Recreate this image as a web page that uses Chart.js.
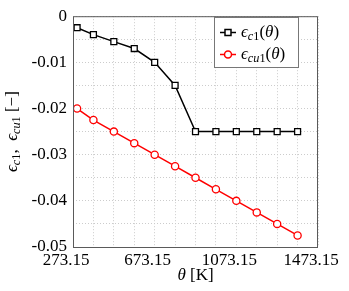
<!DOCTYPE html>
<html>
<head>
<meta charset="utf-8">
<script src="https://cdn.jsdelivr.net/npm/chart.js@4"></script>
<style>
  html, body { margin: 0; padding: 0; background: #fff; }
  #wrap { width: 349px; height: 291px; }
</style>
</head>
<body>
<div id="wrap"><canvas id="chart" width="349" height="291"></canvas></div>
<script>
// temperature in K
const temperatures = [293.15, 373.15, 473.15, 573.15, 673.15, 773.15, 873.15, 973.15, 1073.15, 1173.15, 1273.15, 1373.15];
const epsC1 = [-0.0025, -0.004, -0.0055, -0.007, -0.01, -0.015, -0.025, -0.025, -0.025, -0.025, -0.025, -0.025];
const epsCu1 = [-0.02, -0.0225, -0.025, -0.0275, -0.03, -0.0325, -0.035, -0.0375, -0.04, -0.0425, -0.045, -0.0475];

const xTickValues = [273.15, 673.15, 1073.15, 1473.15];
const yTickValues = [0, -0.01, -0.02, -0.03, -0.04, -0.05];
const yTickLabels = ['0', '-0.01', '-0.02', '-0.03', '-0.04', '-0.05'];

const SERIF = "'Liberation Serif', 'DejaVu Serif', serif";

// grid every 100 K and every 0.005
const xGrid = [];
for (let i = 0; i <= 12; i++) xGrid.push(273.15 + 100 * i);
const yGrid = [];
for (let i = 0; i <= 10; i++) yGrid.push(-0.005 * i);

function near(a, b) { return Math.abs(a - b) < 1e-6; }

// draw text made of pieces: {t, it, sub}
function richText(ctx, parts, x, y, size) {
    let cx = x;
    parts.forEach(p => {
        const fs = p.sub ? size * 0.72 : size;
        ctx.font = (p.it ? 'italic ' : '') + fs + 'px ' + SERIF;
        ctx.fillText(p.t, cx, y + (p.sub ? size * 0.25 : 0));
        cx += ctx.measureText(p.t).width;
    });
    return cx - x;
}
function richWidth(ctx, parts, size) {
    let w = 0;
    parts.forEach(p => {
        const fs = p.sub ? size * 0.72 : size;
        ctx.font = (p.it ? 'italic ' : '') + fs + 'px ' + SERIF;
        w += ctx.measureText(p.t).width;
    });
    return w;
}

const labelC1 = [{t: 'ϵ', it: true}, {t: 'c', it: true, sub: true}, {t: '1', sub: true}, {t: '('}, {t: 'θ', it: true}, {t: ')'}];
const labelCu1 = [{t: 'ϵ', it: true}, {t: 'cu', it: true, sub: true}, {t: '1', sub: true}, {t: '('}, {t: 'θ', it: true}, {t: ')'}];

const decorPlugin = {
    id: 'decor',
    afterDraw(chart) {
        const ctx = chart.ctx;
        const a = chart.chartArea;
        ctx.save();
        // axes box
        ctx.strokeStyle = '#5a5a5a';
        ctx.lineWidth = 1;
        ctx.strokeRect(a.left + 0.5, a.top + 0.5, a.right - a.left - 1, a.bottom - a.top);

        // legend
        const lx = 214, ly = 17, lw = 84, lh = 50;
        ctx.fillStyle = '#fff';
        ctx.fillRect(lx, ly, lw, lh);
        ctx.strokeStyle = '#777';
        ctx.strokeRect(lx + 0.5, ly + 0.5, lw, lh);
        const entries = [
            {parts: labelC1, color: '#000', shape: 'rect', y: 32.5},
            {parts: labelCu1, color: '#ff0000', shape: 'circle', y: 54.5}
        ];
        entries.forEach(e => {
            ctx.strokeStyle = e.color;
            ctx.lineWidth = 1.5;
            ctx.beginPath();
            ctx.moveTo(220, e.y);
            ctx.lineTo(236, e.y);
            ctx.stroke();
            ctx.fillStyle = '#fff';
            ctx.beginPath();
            if (e.shape === 'rect') ctx.rect(228 - 3, e.y - 3, 6, 6);
            else ctx.arc(228, e.y, 3.5, 0, Math.PI * 2);
            ctx.fill();
            ctx.stroke();
            ctx.fillStyle = '#000';
            ctx.textBaseline = 'middle';
            ctx.textAlign = 'left';
            richText(ctx, e.parts, 241, e.y, 17);
        });

        // x title
        ctx.fillStyle = '#000';
        ctx.textBaseline = 'middle';
        const xt = [{t: 'θ', it: true}, {t: ' [K]'}];
        const xw = richWidth(ctx, xt, 17);
        richText(ctx, xt, (a.left + a.right) / 2 - xw / 2, 276, 17);

        // y title
        const yt = [{t: 'ϵ', it: true}, {t: 'c', it: true, sub: true}, {t: '1', sub: true}, {t: ',  '},
                    {t: 'ϵ', it: true}, {t: 'cu', it: true, sub: true}, {t: '1', sub: true}, {t: ' [−]'}];
        const yw = richWidth(ctx, yt, 17);
        ctx.translate(13, (a.top + a.bottom) / 2);
        ctx.rotate(-Math.PI / 2);
        richText(ctx, yt, -yw / 2, 0, 17);
        ctx.restore();
    }
};

const ctx = document.getElementById('chart').getContext('2d');
const chart = new Chart(ctx, {
    type: 'line',
    data: {
        datasets: [{
            label: 'ϵc1(θ)',
            data: temperatures.map((t, i) => ({x: t, y: epsC1[i]})),
            borderColor: '#000',
            backgroundColor: '#fff',
            borderWidth: 1.5,
            pointStyle: 'rect',
            pointRadius: 4.2,
            pointBorderWidth: 1.3,
            pointBackgroundColor: '#fff',
            tension: 0
        }, {
            label: 'ϵcu1(θ)',
            data: temperatures.map((t, i) => ({x: t, y: epsCu1[i]})),
            borderColor: '#ff0000',
            backgroundColor: '#fff',
            borderWidth: 1.5,
            pointStyle: 'circle',
            pointRadius: 3.6,
            pointBorderWidth: 1.3,
            pointBackgroundColor: '#fff',
            tension: 0
        }]
    },
    options: {
        responsive: false,
        animation: false,
        events: [],
        layout: { padding: { left: 0, right: 31, top: 15, bottom: 0 } },
        plugins: { legend: { display: false }, tooltip: { enabled: false } },
        scales: {
            x: {
                type: 'linear',
                min: 273.15,
                max: 1473.15,
                afterBuildTicks: s => { s.ticks = xGrid.map(v => ({value: v})); },
                afterFit: s => { s.height = 44; },
                ticks: {
                    autoSkip: false,
                    maxRotation: 0,
                    padding: 3,
                    labelOffset: -7,
                    color: '#000',
                    font: { family: SERIF, size: 17 },
                    callback: v => xTickValues.some(t => near(t, v)) ? v.toFixed(2) : ''
                },
                grid: { color: '#cccccc', drawTicks: false, tickLength: 0 },
                border: { display: false, dash: [1, 2] }
            },
            y: {
                min: -0.05,
                max: 0,
                afterBuildTicks: s => { s.ticks = yGrid.map(v => ({value: v})); },
                afterFit: s => { s.width = 73; },
                ticks: {
                    autoSkip: false,
                    padding: 6,
                    color: '#000',
                    font: { family: SERIF, size: 17 },
                    callback: v => {
                        const k = yTickValues.findIndex(t => near(t, v));
                        return k >= 0 ? yTickLabels[k] : '';
                    }
                },
                grid: { color: '#cccccc', drawTicks: false, tickLength: 0 },
                border: { display: false, dash: [1, 2] }
            }
        }
    },
    plugins: [decorPlugin]
});
</script>
</body>
</html>
